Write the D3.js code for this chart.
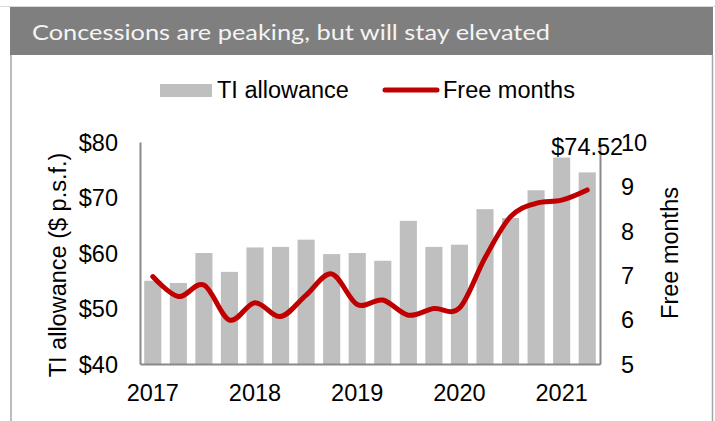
<!DOCTYPE html>
<html>
<head>
<meta charset="utf-8">
<script src="https://cdn.jsdelivr.net/npm/d3@7"></script>
<style>
  html, body { margin: 0; padding: 0; background: #fff; }
  svg { display: block; }
  text { font-family: "Liberation Sans", Arial, sans-serif; fill: #000; }
</style>
</head>
<body>
<svg id="chart" width="715" height="421"></svg>
<script>
// Quarterly office-leasing concessions, 2017 Q1 – 2021 Q2
const quarters = ["2017Q1","2017Q2","2017Q3","2017Q4","2018Q1","2018Q2","2018Q3","2018Q4",
                  "2019Q1","2019Q2","2019Q3","2019Q4","2020Q1","2020Q2","2020Q3","2020Q4",
                  "2021Q1","2021Q2"];
const tiAllowance = [55.0, 54.6, 60.0, 56.6, 61.0, 61.1, 62.4, 59.8, 60.0, 58.6,
                     65.8, 61.1, 61.5, 67.9, 66.3, 71.3, 77.2, 74.52];
const freeMonths = [6.97, 6.52, 6.78, 5.99, 6.38, 6.07, 6.55, 7.03, 6.34, 6.44,
                    6.10, 6.25, 6.26, 7.39, 8.32, 8.62, 8.69, 8.92];
const yearLabels = ["2017","2018","2019","2020","2021"];
const leftTicks = [40, 50, 60, 70, 80];
const rightTicks = [5, 6, 7, 8, 9, 10];
const lastLabel = "$74.52";

const svg = d3.select("#chart");
const W = 715, H = 421;
const plot = { left: 140, right: 600, top: 142, bottom: 364 };
const axisColor = "#898989";
const fs = 23.5;

// Panel frame and title band
svg.append("line").attr("x1", 0).attr("x2", W).attr("y1", 6.5).attr("y2", 6.5)
  .attr("stroke", "#d9d9d9").attr("stroke-width", 1);
svg.append("rect").attr("x", 10).attr("y", 7).attr("width", 703).attr("height", 48)
  .attr("fill", "#7f7f7f");
svg.append("line").attr("x1", 11).attr("x2", 11).attr("y1", 55).attr("y2", H)
  .attr("stroke", "#a6a6a6").attr("stroke-width", 1.5);
svg.append("line").attr("x1", 712.5).attr("x2", 712.5).attr("y1", 55).attr("y2", H)
  .attr("stroke", "#a6a6a6").attr("stroke-width", 1.5);
svg.append("text").attr("x", 32).attr("y", 40)
  .attr("textLength", 518).attr("lengthAdjust", "spacingAndGlyphs")
  .style("font-family", "Lato, 'Open Sans', sans-serif").style("font-size", "21px")
  .style("fill", "#f4f4f4")
  .text("Concessions are peaking, but will stay elevated");

// Scales
const x = d3.scaleBand().domain(quarters).range([plot.left, plot.right])
  .paddingInner(0.33).paddingOuter(0.165);
const yL = d3.scaleLinear().domain([40, 80]).range([plot.bottom, plot.top]);
const yR = d3.scaleLinear().domain([5, 10]).range([plot.bottom, plot.top]);

// Bars
svg.append("g").selectAll("rect").data(tiAllowance).join("rect")
  .attr("x", (d, i) => x(quarters[i]))
  .attr("width", x.bandwidth())
  .attr("y", d => yL(d))
  .attr("height", d => yL(40) - yL(d))
  .attr("fill", "#bfbfbf");

// Axes (lines only, no tick marks)
const leftAxis = svg.append("g").attr("transform", `translate(${plot.left},0)`)
  .call(d3.axisLeft(yL).tickValues(leftTicks).tickSize(0).tickPadding(22)
    .tickFormat(d => "$" + d));
const rightAxis = svg.append("g").attr("transform", `translate(${plot.right},0)`)
  .call(d3.axisRight(yR).tickValues(rightTicks).tickSize(0).tickPadding(21)
    .tickFormat(d3.format("d")));
const yearTicks = quarters.filter(q => q.endsWith("Q1"));
const bottomAxis = svg.append("g").attr("transform", `translate(0,${plot.bottom})`)
  .call(d3.axisBottom(x).tickValues(yearTicks).tickSize(0).tickPadding(20)
    .tickFormat((d, i) => yearLabels[i]));

[leftAxis, rightAxis, bottomAxis].forEach(g => {
  g.select(".domain").attr("stroke", axisColor).attr("stroke-width", 2);
  g.selectAll("text").style("font-size", fs + "px")
    .style("font-family", "'Liberation Sans', Arial, sans-serif").attr("fill", "#000");
});
rightAxis.selectAll("text").attr("dy", "0.35em");
leftAxis.selectAll("text").attr("dy", "0.35em");
bottomAxis.selectAll("text").attr("dy", "0.71em");

// Smoothed line for free months
const line = d3.line()
  .x((d, i) => x(quarters[i]) + x.bandwidth() / 2)
  .y(d => yR(d))
  .curve(d3.curveCatmullRom.alpha(0));
svg.append("path").datum(freeMonths)
  .attr("d", line)
  .attr("fill", "none")
  .attr("stroke", "#c00000")
  .attr("stroke-width", 5)
  .attr("stroke-linecap", "round")
  .attr("stroke-linejoin", "round");

// Value label on the latest bar
const lastIdx = tiAllowance.length - 1;
svg.append("text")
  .attr("x", x(quarters[lastIdx]) + x.bandwidth() / 2)
  .attr("y", yL(tiAllowance[lastIdx]) - 17)
  .attr("text-anchor", "middle")
  .style("font-size", fs + "px")
  .text(lastLabel);

// Axis titles
svg.append("text")
  .attr("transform", "translate(57.5,265) rotate(-90)")
  .attr("text-anchor", "middle").attr("dy", "0.35em")
  .style("font-size", fs + "px")
  .text("TI allowance ($ p.s.f.)");
svg.append("text")
  .attr("transform", "translate(670,253) rotate(-90)")
  .attr("text-anchor", "middle").attr("dy", "0.35em")
  .style("font-size", fs + "px")
  .text("Free months");

// Legend
const legend = svg.append("g");
legend.append("rect").attr("x", 160).attr("y", 84).attr("width", 52).attr("height", 13)
  .attr("fill", "#bfbfbf");
legend.append("text").attr("x", 217).attr("y", 98).style("font-size", fs + "px")
  .text("TI allowance");
legend.append("line").attr("x1", 385).attr("x2", 437).attr("y1", 90).attr("y2", 90)
  .attr("stroke", "#c00000").attr("stroke-width", 5).attr("stroke-linecap", "round");
legend.append("text").attr("x", 443).attr("y", 98).style("font-size", fs + "px")
  .text("Free months");
</script>
</body>
</html>
